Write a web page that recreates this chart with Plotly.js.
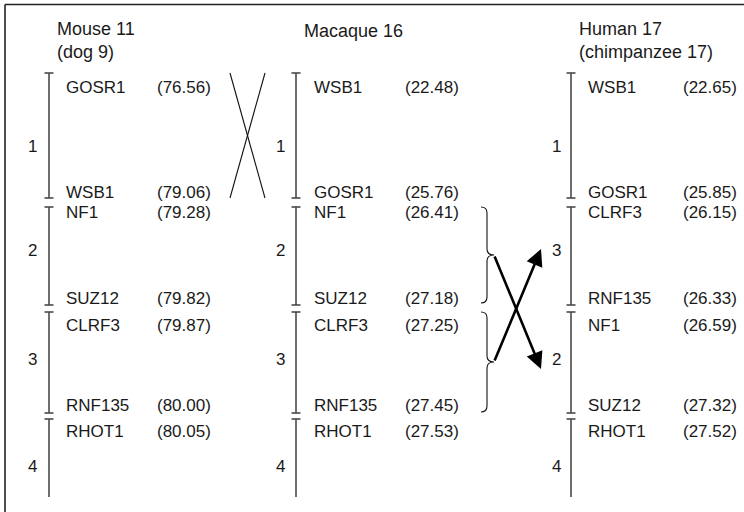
<!DOCTYPE html>
<html>
<head>
<meta charset="utf-8">
<script src="https://cdn.plot.ly/plotly-3.0.1.min.js"></script>
<style>html,body{margin:0;padding:0;background:#fff;}#chart{width:744px;height:512px;}</style>
</head>
<body>
<div id="chart"></div>
<script>
// ---- data ----
var speciesTitles = ['Mouse 11<br>(dog 9)', 'Macaque 16', 'Human 17<br>(chimpanzee 17)'];
var mouseGenes   = ['GOSR1', 'WSB1', 'NF1', 'SUZ12', 'CLRF3', 'RNF135', 'RHOT1'];
var mousePos     = [76.56, 79.06, 79.28, 79.82, 79.87, 80.00, 80.05];
var macaqueGenes = ['WSB1', 'GOSR1', 'NF1', 'SUZ12', 'CLRF3', 'RNF135', 'RHOT1'];
var macaquePos   = [22.48, 25.76, 26.41, 27.18, 27.25, 27.45, 27.53];
var humanGenes   = ['WSB1', 'GOSR1', 'CLRF3', 'RNF135', 'NF1', 'SUZ12', 'RHOT1'];
var humanPos     = [22.65, 25.85, 26.15, 26.33, 26.59, 27.32, 27.52];
var mouseBlocks   = ['1', '2', '3', '4'];
var macaqueBlocks = ['1', '2', '3', '4'];
var humanBlocks   = ['1', '3', '2', '4'];

// ---- layout constants (pixel-space diagram coordinates) ----
var FONT = '"Liberation Sans", Arial, Helvetica, sans-serif';
var TXT = '#1a1a1a';
var BAR = '#4a4a4a';
var cols = [
  {title: speciesTitles[0], genes: mouseGenes, pos: mousePos, blocks: mouseBlocks, titleX: 55, barX: 49, numX: 32, geneX: 64, posX: 155},
  {title: speciesTitles[1], genes: macaqueGenes, pos: macaquePos, blocks: macaqueBlocks, titleX: 302, barX: 296, numX: 280, geneX: 312, posX: 403},
  {title: speciesTitles[2], genes: humanGenes, pos: humanPos, blocks: humanBlocks, titleX: 577, barX: 571, numX: 556, geneX: 586, posX: 681}
];
var blockTop = [73, 207, 312, 419];
var blockBot = [198, 305, 413, 497];
var blockMid = [146, 250, 359, 466];
var geneY = [87, 192, 212, 298, 325, 405, 431];

var shapes = [];
var annotations = [];

// frame (top and left edges only)
shapes.push({type: 'line', xref: 'x', yref: 'y', x0: 5, y0: 4.5, x1: 744, y1: 4.5, line: {color: '#222', width: 1.6}});
shapes.push({type: 'line', xref: 'x', yref: 'y', x0: 5, y0: 4.5, x1: 5, y1: 512, line: {color: '#222', width: 1.6}});

cols.forEach(function (c) {
  annotations.push({x: c.titleX, y: c.title.indexOf('<br>') >= 0 ? 40 : 31, xref: 'x', yref: 'y', text: c.title,
    showarrow: false, xanchor: 'left', yanchor: 'middle', align: 'left',
    font: {family: FONT, size: 18, color: TXT}});
  for (var b = 0; b < 4; b++) {
    shapes.push({type: 'line', xref: 'x', yref: 'y', x0: c.barX, y0: blockTop[b], x1: c.barX, y1: blockBot[b], line: {color: BAR, width: 1.6}});
    shapes.push({type: 'line', xref: 'x', yref: 'y', x0: c.barX - 4.5, y0: blockTop[b], x1: c.barX + 4.5, y1: blockTop[b], line: {color: BAR, width: 1.6}});
    if (b < 3) {
      shapes.push({type: 'line', xref: 'x', yref: 'y', x0: c.barX - 4.5, y0: blockBot[b], x1: c.barX + 4.5, y1: blockBot[b], line: {color: BAR, width: 1.6}});
    }
    annotations.push({x: c.numX, y: blockMid[b], xref: 'x', yref: 'y', text: c.blocks[b], showarrow: false,
      xanchor: 'center', yanchor: 'middle', font: {family: FONT, size: 17, color: TXT}});
  }
  for (var g = 0; g < c.genes.length; g++) {
    annotations.push({x: c.geneX, y: geneY[g], xref: 'x', yref: 'y', text: c.genes[g], showarrow: false,
      xanchor: 'left', yanchor: 'middle', font: {family: FONT, size: 17, color: TXT}});
    annotations.push({x: c.posX, y: geneY[g], xref: 'x', yref: 'y', text: '(' + c.pos[g].toFixed(2) + ')', showarrow: false,
      xanchor: 'left', yanchor: 'middle', font: {family: FONT, size: 17, color: TXT}});
  }
});

// inversion cross between mouse and macaque block 1
shapes.push({type: 'line', xref: 'x', yref: 'y', x0: 230, y0: 73, x1: 265, y1: 198, line: {color: '#111', width: 1.1}});
shapes.push({type: 'line', xref: 'x', yref: 'y', x0: 265, y0: 73, x1: 230, y1: 198, line: {color: '#111', width: 1.1}});

// curly braces on macaque blocks 2 and 3
function brace(top, bot, xl, xm, xt) {
  var mid = (top + bot) / 2;
  return 'M ' + xl + ',' + top + ' Q ' + xm + ',' + top + ' ' + xm + ',' + (top + 6) +
    ' L ' + xm + ',' + (mid - 6) + ' Q ' + xm + ',' + mid + ' ' + xt + ',' + mid +
    ' Q ' + xm + ',' + mid + ' ' + xm + ',' + (mid + 6) +
    ' L ' + xm + ',' + (bot - 6) + ' Q ' + xm + ',' + bot + ' ' + xl + ',' + bot;
}
shapes.push({type: 'path', xref: 'x', yref: 'y', path: brace(207, 303, 481, 487, 494), line: {color: '#111', width: 1.1}});
shapes.push({type: 'path', xref: 'x', yref: 'y', path: brace(312, 412, 481, 487, 494), line: {color: '#111', width: 1.1}});

// translocation arrows
annotations.push({x: 541, y: 369, ax: 494, ay: 255, xref: 'x', yref: 'y', axref: 'x', ayref: 'y', text: '',
  showarrow: true, arrowhead: 2, arrowsize: 1.3, arrowwidth: 2.6, arrowcolor: '#000', standoff: 0, startstandoff: 0});
annotations.push({x: 541, y: 249, ax: 494, ay: 362, xref: 'x', yref: 'y', axref: 'x', ayref: 'y', text: '',
  showarrow: true, arrowhead: 2, arrowsize: 1.3, arrowwidth: 2.6, arrowcolor: '#000', standoff: 0, startstandoff: 0});

var layout = {
  width: 744, height: 512,
  margin: {l: 0, r: 0, t: 0, b: 0},
  paper_bgcolor: '#fff', plot_bgcolor: '#fff',
  showlegend: false,
  xaxis: {range: [0, 744], visible: false, fixedrange: true},
  yaxis: {range: [512, 0], visible: false, fixedrange: true},
  shapes: shapes,
  annotations: annotations
};
Plotly.newPlot('chart', [{x: [], y: [], type: 'scatter', mode: 'markers', hoverinfo: 'skip'}], layout, {staticPlot: true, displayModeBar: false});
</script>
</body>
</html>
